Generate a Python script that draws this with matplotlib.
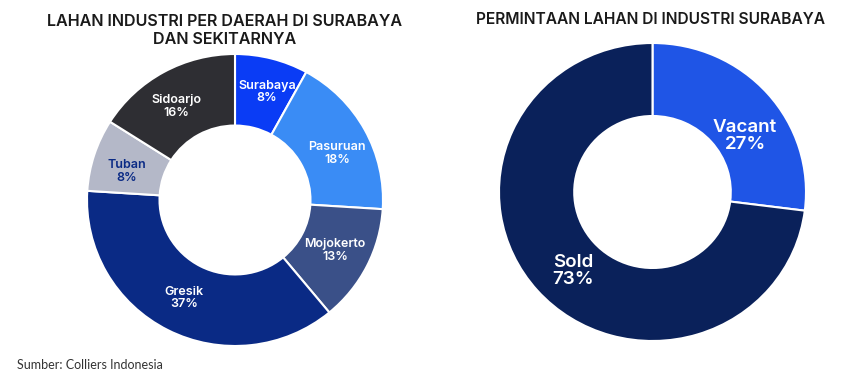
import matplotlib
matplotlib.use("Agg")
import matplotlib.pyplot as plt
import numpy as np

# Data
regions = ["Surabaya", "Pasuruan", "Mojokerto", "Gresik", "Tuban", "Sidoarjo"]
region_share = [8, 18, 13, 37, 8, 16]
region_colors = ["#0A3CF5", "#3A8CF5", "#3A5088", "#0A2A85", "#B4B8C8", "#2E2E33"]
region_text_colors = ["white", "white", "white", "white", "#0A2A85", "white"]

status = ["Vacant", "Sold"]
status_share = [27, 73]
status_colors = ["#1F55E6", "#0A215A"]

title_left = "LAHAN INDUSTRI PER DAERAH DI SURABAYA\nDAN SEKITARNYA"
title_right = "PERMINTAAN LAHAN DI INDUSTRI SURABAYA"
source = "Sumber: Colliers Indonesia"

# label layout tweaks (angle offset in degrees, radius)
left_label_layout = [(-2, 0.77), (-4, 0.76), (0, 0.76), (0, 0.755), (3, 0.755), (3, 0.755)]
right_label_layout = [(-9.5, 0.71), (4, 0.74)]

W, H = 858, 385
fig = plt.figure(figsize=(W / 100, H / 100), dpi=100)
fig.patch.set_facecolor("white")

def make_ax(cx, cy, rx, ry):
    return fig.add_axes([(cx - rx) / W, 1 - (cy + ry) / H, 2 * rx / W, 2 * ry / H])

font = "Inter"

# Left donut
ax1 = make_ax(235, 200, 148, 146)
ax1.pie(region_share, colors=region_colors, startangle=90, counterclock=False,
        wedgeprops=dict(width=0.49, edgecolor="white", linewidth=1.5))
total = sum(region_share)
cum = 0
for name, v, tc, (da, r) in zip(regions, region_share, region_text_colors, left_label_layout):
    mid = 90 - (cum + v / 2) / total * 360 + da
    cum += v
    x, y = r * np.cos(np.radians(mid)), r * np.sin(np.radians(mid))
    ax1.text(x, y, f"{name}\n{v}%", ha="center", va="center", color=tc,
             fontsize=9, fontweight="semibold", family=font, linespacing=1.05)
ax1.set_xlim(-1, 1)
ax1.set_ylim(-1, 1)
ax1.set_aspect("auto")
ax1.axis("off")

# Right donut
ax2 = make_ax(652.5, 192, 153.5, 149)
ax2.pie(status_share, colors=status_colors, startangle=90, counterclock=False,
        wedgeprops=dict(width=0.49, edgecolor="white", linewidth=1.5))
total = sum(status_share)
cum = 0
for name, v, (da, r) in zip(status, status_share, right_label_layout):
    mid = 90 - (cum + v / 2) / total * 360 + da
    cum += v
    x, y = r * np.cos(np.radians(mid)), r * np.sin(np.radians(mid))
    ax2.text(x, y, f"{name}\n{v}%", ha="center", va="center", color="white",
             fontsize=13.5, fontweight="semibold", family=font, linespacing=1.0)
ax2.set_xlim(-1, 1)
ax2.set_ylim(-1, 1)
ax2.set_aspect("auto")
ax2.axis("off")

fig.text(225 / W, 1 - 30 / H, title_left, ha="center", va="center", fontsize=11.6,
         fontweight="semibold", family=font, color="#1a1a1a", linespacing=1.25)
fig.text(651 / W, 1 - 20 / H, title_right, ha="center", va="center", fontsize=11.2,
         fontweight="semibold", family=font, color="#1a1a1a")
fig.text(17 / W, 1 - 365 / H, source, ha="left", va="center", fontsize=9,
         family="Lato", color="#333333")

fig.savefig("out.png", dpi=100, facecolor="white")
